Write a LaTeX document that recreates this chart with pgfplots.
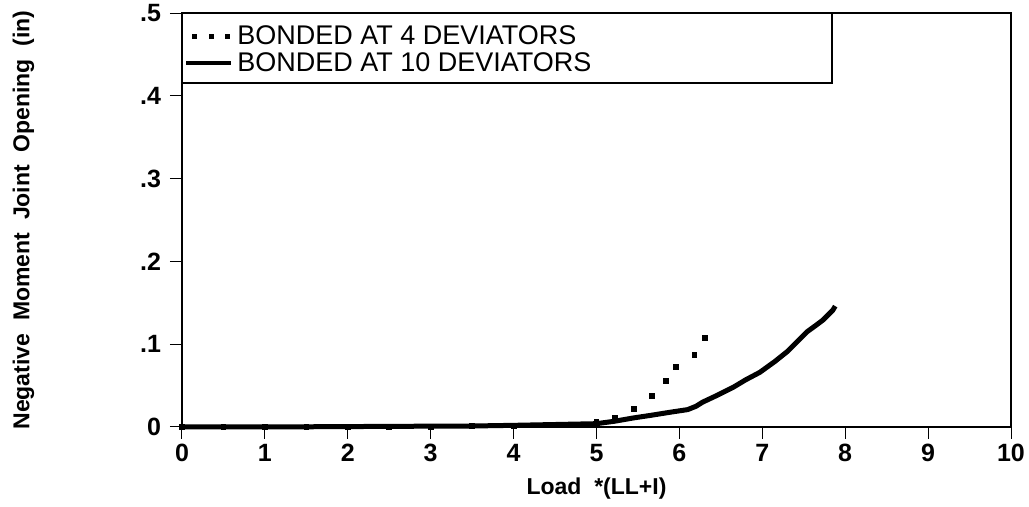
\documentclass[border=0pt]{standalone}
\usepackage{fontspec}
\setmainfont{Liberation Sans}
\usepackage{pgfplots}
\pgfplotsset{compat=1.18}
\begin{document}
\begin{tikzpicture}
\begin{axis}[
  at={(0,0)}, anchor=south west,
  scale only axis,
  width=414.5pt, height=207pt,
  xmin=0, xmax=10, ymin=0, ymax=0.5,
  xtick={0,1,...,10},
  ytick={0,0.1,0.2,0.3,0.4,0.5},
  yticklabels={0,.1,.2,.3,.4,.5},
  tick align=outside,
  major tick length=6pt,
  tick style={line width=0.5pt, black},
  axis line style={line width=0.6pt},
  xtick pos=bottom, ytick pos=left,
  /pgf/number format/assume math mode=true,
  ticklabel style={font=\fontsize{12.5}{14}\selectfont\bfseries},
  xticklabel style={yshift=1pt},
  yticklabel style={xshift=-1pt},
  xlabel={Load\ \ *(LL+I)},
  ylabel={Negative\ \ Moment\ \ Joint\ \ Opening\ \ (in)},
  label style={font=\fontsize{11.5}{13}\selectfont\bfseries},
  xlabel style={yshift=-1pt},
  ylabel style={yshift=46pt},
  clip=false,
  legend cell align=left,
  legend style={at={(0,1)}, anchor=north west, draw=none, fill=none,
    font=\fontsize{13.5}{14}\selectfont, inner xsep=1pt, inner ysep=4pt,
    row sep=-1.5pt},
]
\addplot[only marks, mark=square*, mark size=1.2pt, black,
  legend image code/.code={
    \foreach \xx in {6.5,15,23}{\fill[black] (\xx pt-1.2pt,-1.2pt) rectangle ++(2.4pt,2.4pt);}
  }] coordinates {
  (0,0) (0.5,0) (1,0) (1.5,0) (2,0) (2.5,0) (3,0) (3.5,0.001) (4,0.001) (4.5,0.002)
  (5.0,0.006) (5.22,0.011) (5.45,0.022) (5.67,0.038) (5.84,0.056) (5.96,0.073) (6.18,0.087) (6.31,0.1075)
};
\addlegendentry{BONDED AT 4 DEVIATORS}
\addplot[black, line width=2.5pt,
  legend image code/.code={\draw[black, line width=2pt] (2.5pt,0pt) -- (25pt,0pt);}] coordinates {
  (0,0) (1,0) (2,0.0005) (3,0.001) (3.5,0.0012) (4,0.002) (4.5,0.003) (5,0.004)
  (5.22,0.007) (5.45,0.011) (5.65,0.014) (5.9,0.018) (6.1,0.021) (6.2,0.025)
  (6.28,0.030) (6.45,0.038) (6.65,0.048) (6.8,0.057) (6.97,0.066) (7.15,0.079)
  (7.3,0.091) (7.45,0.106) (7.54,0.115) (7.65,0.123) (7.73,0.129) (7.8,0.136)
  (7.85,0.141) (7.88,0.146)
};
\addlegendentry{BONDED AT 10 DEVIATORS}
\draw[line width=0.6pt] (rel axis cs:0,1) rectangle (rel axis cs:0.784,0.831);
\end{axis}
\pgfresetboundingbox
\useasboundingbox (-91pt,-40pt) rectangle (423.5pt,213.5pt);
\end{tikzpicture}
\end{document}
